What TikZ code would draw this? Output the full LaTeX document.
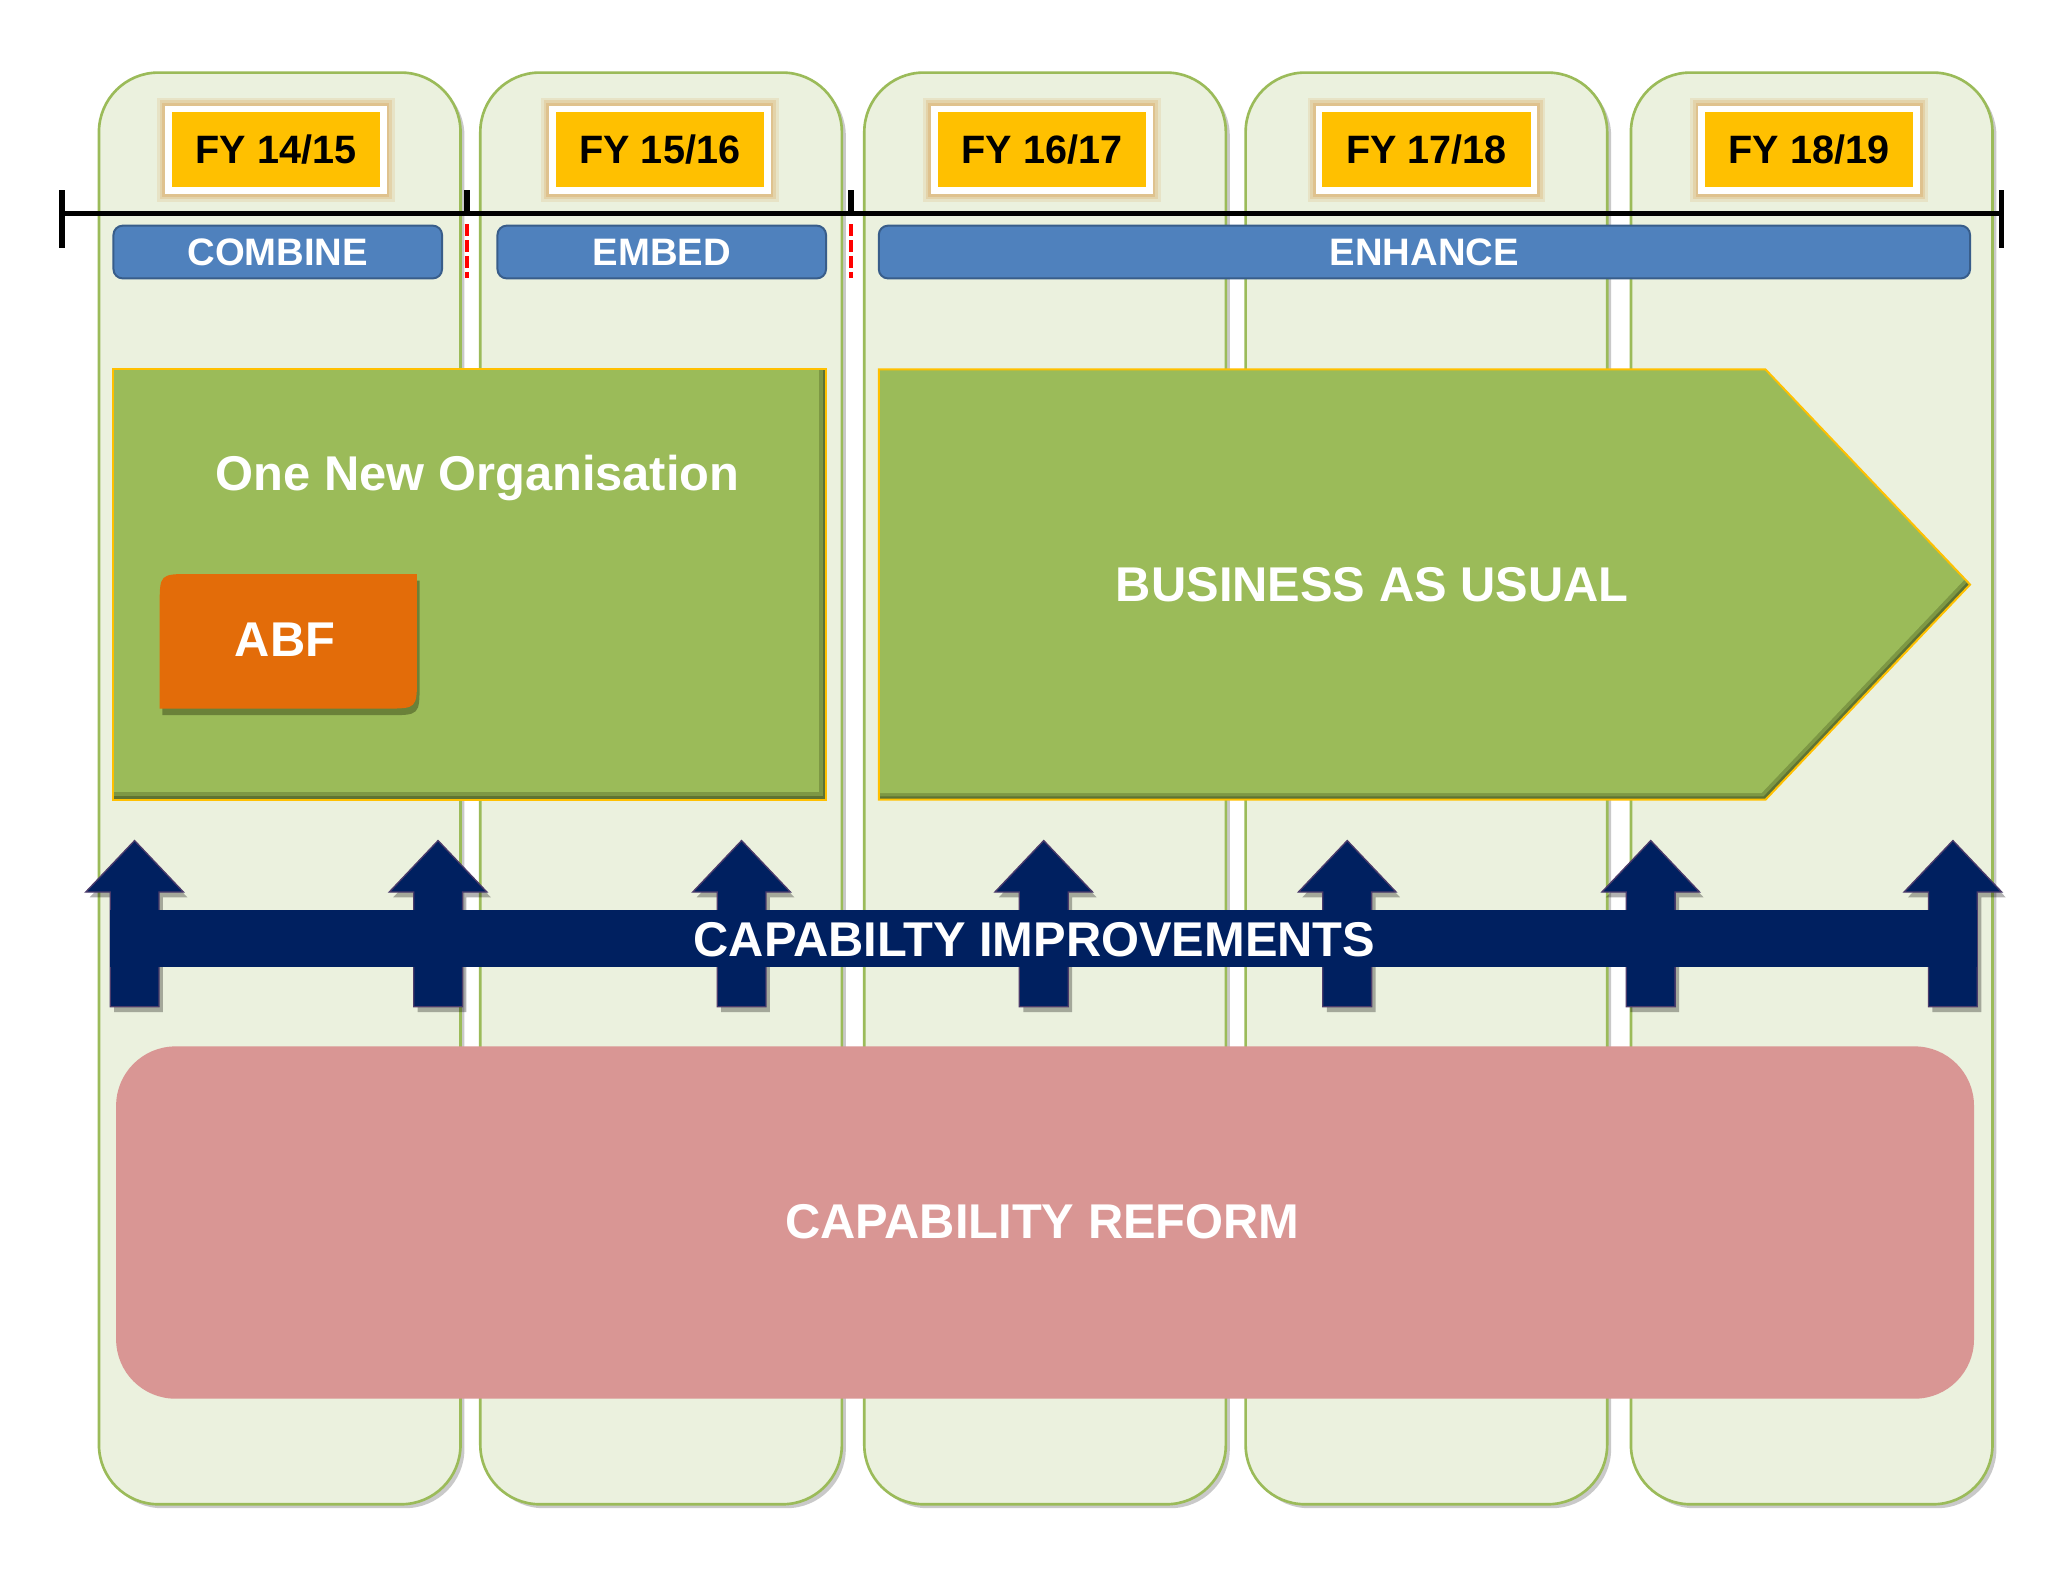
\documentclass[tikz,border=0pt]{standalone}
\usepackage{fontspec}
\setmainfont{Liberation Sans}
\usetikzlibrary{shadows}
\definecolor{panelfill}{HTML}{EBF1DE}
\definecolor{panelline}{HTML}{9BBB59}
\definecolor{fyfill}{HTML}{FFC000}
\definecolor{fyglow}{HTML}{D9A55A}
\definecolor{phasefill}{HTML}{4F81BD}
\definecolor{phaseline}{HTML}{385D8A}
\definecolor{boxgreen}{HTML}{9BBB59}
\definecolor{boxdark}{HTML}{5E7332}
\definecolor{boxmid}{HTML}{7D9844}
\definecolor{abffill}{HTML}{E36C09}
\definecolor{navyblue}{HTML}{002060}
\definecolor{navyedge}{HTML}{4B3B6B}
\definecolor{pinkfill}{HTML}{D99694}
\tikzset{
  panel/.style={fill=panelfill, draw=panelline, line width=2pt, rounded corners=45pt,
    drop shadow={shadow xshift=3pt, shadow yshift=-3pt, opacity=0.35, fill=black!60}},
  fybox/.style={fill=fyfill, draw=white, line width=5pt, minimum width=163pt, minimum height=62pt,
    inner sep=0pt, text=black, font=\bfseries\fontsize{30}{36}\selectfont,
    preaction={draw=fyglow, line width=17pt, opacity=0.18},
    preaction={draw=fyglow, line width=13pt, opacity=0.25},
    preaction={draw=fyglow, line width=9pt, opacity=0.35}},
  phasebar/.style={fill=phasefill, draw=phaseline, line width=1.5pt, rounded corners=7pt,
    minimum height=40pt, inner sep=0pt, text=white, font=\bfseries\fontsize{29}{36}\selectfont},
  bigtext/.style={text=white, inner sep=0pt, font=\bfseries\fontsize{37}{44}\selectfont},
  tlmark/.style={line width=4pt, draw=black},
  greenedge/.style={draw=fyfill, line width=1.5pt},
}
\begin{document}
\begin{tikzpicture}[x=1pt,y=-1pt]
\useasboundingbox (0,0) rectangle (1568,1195);
\fill[white] (0,0) rectangle (1568,1195);

% year panels
\foreach \l in {75,364,655,944,1236}{
  \path[panel] (\l,55) rectangle ++(274,1085);
}

% timeline
\draw[tlmark] (47,162) -- (1517,162);
\draw[tlmark] (47,144) -- (47,188);
\draw[tlmark] (1517,144) -- (1517,188);
\draw[tlmark] (354,144) -- (354,162);
\draw[tlmark] (645,144) -- (645,162);
\foreach \x in {354,645}{
  \draw[white, line width=3pt] (\x,170) -- (\x,211);
  \draw[red, line width=3pt, dash pattern=on 9pt off 3pt] (\x,170) -- (\x,211);
}

% FY labels
\node[fybox] (fy1) at (209,113.5) {FY 14/15};
\node[fybox] (fy2) at (500,113.5) {FY 15/16};
\node[fybox] (fy3) at (789.5,113.5) {FY 16/17};
\node[fybox] (fy4) at (1081,113.5) {FY 17/18};
\node[fybox] (fy5) at (1371,113.5) {FY 18/19};

% phase bars
\node[phasebar, minimum width=249pt] (combine) at (210.5,191) {COMBINE};
\node[phasebar, minimum width=249pt] (embed) at (501.5,191) {EMBED};
\node[phasebar, minimum width=827pt] (enhance) at (1079.5,191) {ENHANCE};

% One New Organisation box
\fill[boxdark] (86,280) rectangle (626,606);
\fill[boxmid] (86,280) rectangle (623.5,603);
\fill[boxgreen] (86,280) rectangle (621,600);
\draw[greenedge] (86,280) rectangle (626,606);
\node[bigtext] (onenew) at (362,362) {One New Organisation};

% ABF
\fill[boxdark, opacity=0.8] (123,542) -- (123,464) .. controls (123,440) .. (147,440) -- (318,440) -- (318,518) .. controls (318,542) .. (294,542) -- cycle;
\fill[abffill] (121,537) -- (121,459) .. controls (121,435) .. (145,435) -- (316,435) -- (316,513) .. controls (316,537) .. (292,537) -- cycle;
\node[bigtext] (abf) at (216,485) {ABF};

% Business as usual arrow
\begin{scope}
  \clip (666,280) -- (1338,280) -- (1493,443) -- (1338,606) -- (666,606) -- cycle;
  \fill[boxdark] (660,270) rectangle (1500,615);
  \fill[boxmid, shift={(-1.5,-2.5)}] (666,280) -- (1338,280) -- (1493,443) -- (1338,606) -- (666,606) -- cycle;
  \fill[boxgreen, shift={(-3,-5)}] (666,280) -- (1338,280) -- (1493,443) -- (1338,606) -- (666,606) -- cycle;
\end{scope}
\draw[greenedge] (666,280) -- (1338,280) -- (1493,443) -- (1338,606) -- (666,606) -- cycle;
\node[bigtext] (bau) at (1040,443) {BUSINESS AS USUAL};

% capability improvements
\foreach \c in {102,332,562,791,1021,1251,1480}{
  \fill[black, opacity=0.3, shift={(3,4)}] (\c,637) -- (\c+37,676) -- (\c+18.5,676) -- (\c+18.5,763) -- (\c-18.5,763) -- (\c-18.5,676) -- (\c-37,676) -- cycle;
}
\foreach \c in {102,332,562,791,1021,1251,1480}{
  \filldraw[fill=navyblue, draw=navyedge, line width=1pt] (\c,637) -- (\c+37,676) -- (\c+18.5,676) -- (\c+18.5,763) -- (\c-18.5,763) -- (\c-18.5,676) -- (\c-37,676) -- cycle;
}
\fill[navyblue] (83.5,690) rectangle (1498.5,733);
\node[bigtext] (capimp) at (784,712) {CAPABILTY IMPROVEMENTS};

% capability reform
\fill[pinkfill, rounded corners=45pt] (88,793) rectangle (1496,1060);
\node[bigtext] (capref) at (790,926) {CAPABILITY REFORM};
\end{tikzpicture}
\end{document}
